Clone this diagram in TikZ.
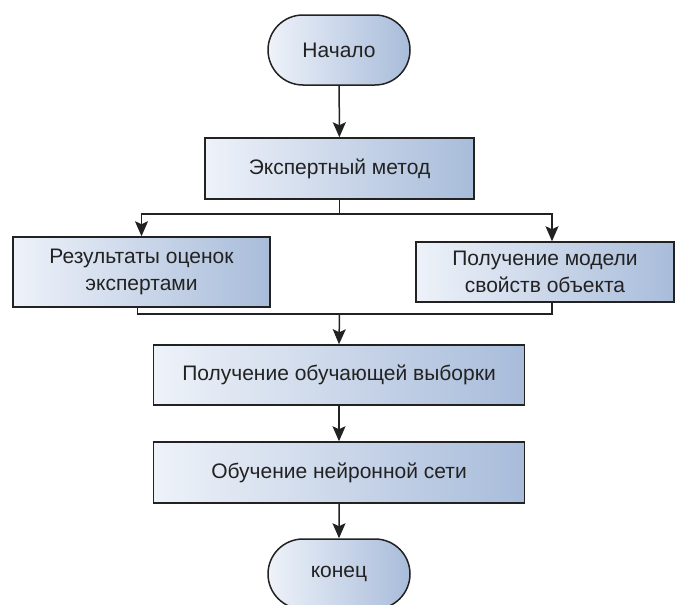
\documentclass[tikz,border=0pt]{standalone}
\usepackage{fontspec}
\setmainfont{Liberation Sans}
\usetikzlibrary{shapes.misc,arrows.meta}
\definecolor{lite}{HTML}{EEF2F9}
\definecolor{dark}{HTML}{A8BCDA}
\definecolor{edge}{HTML}{222222}
\definecolor{txt}{HTML}{222222}
\begin{document}
\begin{tikzpicture}[x=1pt,y=1pt,
  shapebase/.style={draw=edge, line width=1.5pt, left color=lite, right color=dark,
    text=txt, font=\fontsize{21}{27}\selectfont, align=center, inner sep=0pt},
  box/.style={shapebase, rectangle},
  term/.style={shapebase, rounded rectangle, rounded rectangle arc length=180,
    minimum width=142pt, minimum height=70pt},
  ln/.style={draw=edge, line width=1.5pt},
  arr/.style={ln, -{Stealth[length=15pt,width=13pt,inset=3pt]}}]
\useasboundingbox (0,0) rectangle (675,-605);
\fill[white] (0,0) rectangle (675,-605);

\node[term] (start) at (339,-50) {Начало};
\node[box, minimum width=269pt, minimum height=61pt] (expert) at (339.5,-168.5) {Экспертный метод};
\node[box, minimum width=257pt, minimum height=70pt] (left) at (141.5,-272) {Результаты оценок\\экспертами};
\node[box, minimum width=258pt, minimum height=60pt] (right) at (545,-272) {Получение модели\\свойств объекта};
\node[box, minimum width=371pt, minimum height=60pt] (sample) at (339,-375) {Получение обучающей выборки};
\node[box, minimum width=371pt, minimum height=61pt] (nn) at (339,-472.5) {Обучение нейронной сети};
\node[term] (end) at (339,-574) {конец};

\coordinate (j1) at (339.5,-214);
\coordinate (j2) at (339.5,-314);

\draw[arr] (start) -- (expert);
\draw[ln] (expert.south) -- (j1);
\draw[arr] (j1) -| (left.north);
\draw[arr] (j1) -| ([xshift=7pt]right.north);
\draw[ln] ([xshift=-4pt]left.south) |- (j2);
\draw[ln] ([xshift=7pt]right.south) |- (j2);
\draw[arr] (j2) -- (sample.north);
\draw[arr] (sample) -- (nn);
\draw[arr] (nn) -- (end);
\end{tikzpicture}
\end{document}
